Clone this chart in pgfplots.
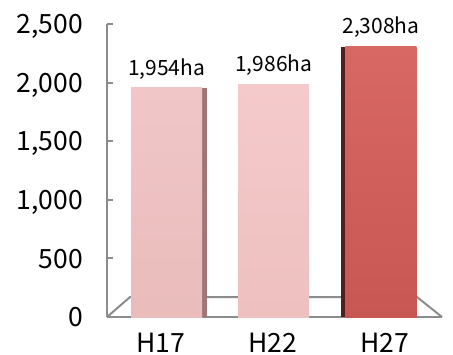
\documentclass[border=0pt]{standalone}
\usepackage{pgfplots}
\pgfplotsset{compat=1.18}
\usepackage{fontspec}
\setmainfont{Noto Sans CJK JP}

\definecolor{barA}{RGB}{234,188,188}
\definecolor{barAtop}{RGB}{240,198,198}
\definecolor{barB}{RGB}{238,192,192}
\definecolor{barBtop}{RGB}{245,202,202}
\definecolor{barC}{RGB}{200,86,82}
\definecolor{barCtop}{RGB}{216,104,100}
\definecolor{sideA}{RGB}{160,118,120}
\definecolor{sideC}{RGB}{78,32,32}
\definecolor{axisgray}{RGB}{140,140,140}

\begin{document}
\begin{tikzpicture}
\begin{axis}[
  at={(107pt,37pt)}, anchor=south west,
  scale only axis, width=335pt, height=293pt,
  xmin=-0.555, xmax=2.569, ymin=0, ymax=2500,
  axis lines=left,
  axis line style={-, draw=axisgray, line width=2pt},
  ytick={0,500,...,2500},
  xtick={-0.056,0.988,2.033}, xticklabels={H17,H22,H27},
  tick align=inside, major tick length=6pt,
  ytick style={draw=axisgray, line width=2pt},
  xtick style={draw=none},
  /pgf/number format/.cd, 1000 sep={,}, assume math mode=true,
  /pgfplots/.cd,
  tick label style={font=\fontsize{26.5}{26.5}\selectfont, text=black, inner sep=0pt, text depth=0pt},
  yticklabel style={anchor=east, xshift=-24pt},
  xticklabel style={anchor=north, yshift=-10pt},
  ybar, bar shift=0pt,
  nodes near coords={\pgfmathprintnumber{\pgfplotspointmeta}ha},
  every node near coord/.append style={font=\fontsize{21}{21}\selectfont, anchor=south,
    inner sep=0pt, text depth=0pt, yshift=12.5pt, text=black},
  clip=false,
]
% floor outline behind the bars
\draw[axisgray, line width=2pt, line join=round]
  (axis cs:-0.555,0) -- (axis cs:-0.340,170.6) -- (axis cs:2.336,170.6) -- (axis cs:2.569,0);

% side faces of the columns
\addplot[bar width=5pt, bar shift=38pt, fill=sideA, draw=none, nodes near coords={}] coordinates {(0,1954)};
\addplot[bar width=4pt, bar shift=-38pt, fill=sideC, draw=none, nodes near coords={}] coordinates {(2,2308)};

% front faces
\addplot[bar width=71pt, draw=none, top color=barAtop, bottom color=barA] coordinates {(0,1954)};
\addplot[bar width=71pt, draw=none, top color=barBtop, bottom color=barB] coordinates {(1,1986)};
\addplot[bar width=71pt, draw=none, top color=barCtop, bottom color=barC] coordinates {(2,2308)};
\end{axis}
\pgfresetboundingbox
\path[use as bounding box] (0,0) rectangle (453pt,354pt);
\end{tikzpicture}
\end{document}
